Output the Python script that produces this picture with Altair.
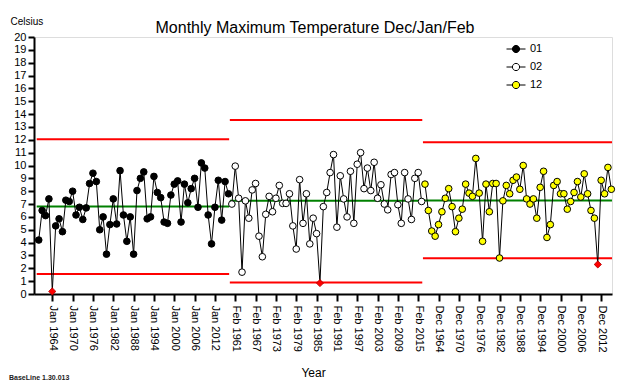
import altair as alt
import pandas as pd

# ---------------- data ----------------
series_names = ["01", "02", "12"]
series_start_year = [1960, 1960, 1960]

jan_values = [4.2, 6.5, 6.1, 7.4, 0.2, 5.3, 5.85, 4.85, 7.3, 7.2,
              8.0, 6.15, 6.75, 5.8, 6.7, 8.6, 9.4, 8.75, 5.0, 6.0,
              3.1, 5.4, 7.4, 5.45, 9.6, 6.15, 4.1, 6.0, 3.1, 8.05,
              9.0, 9.5, 5.85, 6.0, 9.15, 7.9, 7.5, 5.6, 5.5, 7.7,
              8.55, 8.8, 5.6, 8.55, 7.1, 8.2, 9.0, 6.75, 10.2, 9.8,
              6.15, 3.9, 6.75, 8.85, 5.75, 8.75, 7.8]

feb_values = [7.0, 9.95, 7.45, 1.7, 7.25, 5.9, 8.1, 8.6, 4.5, 2.9,
              6.2, 7.6, 6.4, 7.45, 8.45, 7.05, 7.05, 7.8, 5.3, 3.5,
              8.9, 5.5, 7.8, 3.9, 5.9, 4.7, 0.85, 6.8, 7.9, 9.45,
              10.85, 5.2, 9.2, 7.4, 6.0, 9.55, 5.5, 10.1, 11.0, 8.2,
              9.8, 8.05, 10.25, 7.45, 8.5, 7.0, 6.55, 9.3, 9.45, 6.95,
              5.5, 9.45, 7.4, 5.8, 9.0, 9.45, 7.2]

dec_values = [8.55, 6.5, 4.9, 4.5, 5.4, 6.4, 7.45, 8.2, 6.8, 4.85,
              5.9, 6.6, 8.55, 7.85, 7.6, 10.55, 7.85, 4.1, 8.55, 6.4,
              8.6, 8.6, 2.8, 7.25, 8.45, 7.8, 8.85, 9.1, 8.15, 10.0,
              7.4, 7.0, 7.4, 5.9, 8.3, 9.55, 4.4, 5.4, 8.45, 8.75,
              7.8, 7.8, 6.6, 7.2, 7.9, 8.75, 7.55, 9.35, 7.8, 6.5,
              5.9, 2.3, 8.85, 7.8, 9.85, 8.15]

series_values = [jan_values, feb_values, dec_values]
series_fill = ["#000000", "#ffffff", "#ffff00"]

means = [6.8, 7.25, 7.28]
upper_limits = [12.05, 13.55, 11.8]
lower_limits = [1.55, 0.9, 2.78]

tick_labels = ["Jan 1964", "Jan 1970", "Jan 1976", "Jan 1982", "Jan 1988",
               "Jan 1994", "Jan 2000", "Jan 2006", "Jan 2012",
               "Feb 1961", "Feb 1967", "Feb 1973", "Feb 1979", "Feb 1985",
               "Feb 1991", "Feb 1997", "Feb 2003", "Feb 2009", "Feb 2015",
               "Dec 1964", "Dec 1970", "Dec 1976", "Dec 1982", "Dec 1988",
               "Dec 1994", "Dec 2000", "Dec 2006", "Dec 2012"]
month_to_series = {"Jan": 0, "Feb": 1, "Dec": 2}
y_ticks = list(range(0, 21))

# ---------------- tables ----------------
offsets = []
o = 0
for vals in series_values:
    offsets.append(o)
    o += len(vals)

rows = []
for s, vals in enumerate(series_values):
    for i, v in enumerate(vals):
        rows.append({
            "idx": offsets[s] + i,
            "value": v,
            "series": series_names[s],
            "out": bool((v < lower_limits[s]) or (v > upper_limits[s])),
        })
df = pd.DataFrame(rows)

lim_rows = []
for s, vals in enumerate(series_values):
    x1 = offsets[s] - 0.6
    x2 = offsets[s] + len(vals) - 1 + 0.2
    lim_rows.append({"x1": x1, "x2": x2, "y": upper_limits[s], "kind": "limit"})
    lim_rows.append({"x1": x1, "x2": x2, "y": lower_limits[s], "kind": "limit"})
    lim_rows.append({"x1": x1, "x2": x2, "y": means[s], "kind": "mean"})
lim = pd.DataFrame(lim_rows)

tick_values = []
for lab in tick_labels:
    m, y = lab.split()
    s = month_to_series[m]
    tick_values.append(offsets[s] + int(y) - series_start_year[s])

label_expr = ("[" + ",".join("'%s'" % t for t in tick_labels) + "][indexof(["
              + ",".join(str(v) for v in tick_values) + "], datum.value)]")

FONT = "Liberation Sans"
n_total = len(df)
x_scale = alt.Scale(domain=[-1.4, n_total - 1 + 0.2], nice=False, zero=False)
y_scale = alt.Scale(domain=[0, 20], nice=False, zero=True)

x_axis = alt.Axis(values=tick_values, labelExpr=label_expr, labelAngle=90,
                  labelAlign="left", labelBaseline="middle", labelOverlap=False,
                  labelFlush=False, labelBound=False, labelSeparation=0,
                  labelFont=FONT, labelFontSize=11, labelColor="black", labelPadding=4,
                  tickSize=7, tickWidth=2, tickColor="black",
                  domainColor="black", domainWidth=2, grid=False,
                  title="Year", titleFont=FONT, titleFontSize=12, titleFontWeight="normal",
                  titleColor="black", titleX=279, titleY=78, titleAnchor="start",
                  titleAlign="center", titleBaseline="middle")
y_axis = alt.Axis(values=y_ticks, labelFont=FONT, labelFontSize=11,
                  labelOverlap=False, labelFlush=False, labelSeparation=0,
                  labelColor="black", labelPadding=2, tickSize=6, tickWidth=2,
                  tickColor="black", domainColor="black", domainWidth=2, grid=False,
                  title="Celsius", titleAngle=0, titleAlign="left", titleBaseline="top",
                  titleX=-24, titleY=-21, titleFont=FONT, titleFontSize=10,
                  titleFontWeight="normal", titleColor="black")


def X(field):
    return alt.X(field, scale=x_scale, axis=x_axis)


def Y(field):
    return alt.Y(field, scale=y_scale, axis=y_axis)


limits = alt.Chart(lim).transform_filter("datum.kind == 'limit'").mark_rule(
    color="#ff0000", strokeWidth=2
).encode(x=X("x1:Q"), x2="x2:Q", y=Y("y:Q"))

mean_rules = alt.Chart(lim).transform_filter("datum.kind == 'mean'").mark_rule(
    color="#008000", strokeWidth=2
).encode(x=X("x1:Q"), x2="x2:Q", y=Y("y:Q"))

lines = alt.Chart(df).mark_line(color="black", strokeWidth=1).encode(
    x=X("idx:Q"), y=Y("value:Q"), detail="series:N")

legend_path = ("M-1,0L-0.38,0M0.38,0L1,0M-0.38,0A0.38,0.38,0,1,1,0.38,0"
               "A0.38,0.38,0,1,1,-0.38,0Z")

points = alt.Chart(df).transform_filter("!datum.out").mark_point(
    shape="circle", filled=True, size=44, stroke="black", strokeWidth=1, opacity=1
).encode(
    x=X("idx:Q"), y=Y("value:Q"),
    fill=alt.Fill("series:N", scale=alt.Scale(domain=series_names, range=series_fill),
                  legend=alt.Legend(title=None, orient="none", legendX=472, legendY=2,
                                    symbolType=legend_path, symbolSize=361,
                                    symbolStrokeColor="black", symbolStrokeWidth=1,
                                    labelFont=FONT, labelFontSize=11, labelColor="black",
                                    labelOffset=4, rowPadding=2)))

outs = alt.Chart(df).transform_filter("datum.out").mark_point(
    shape="diamond", filled=True, size=50, fill="#ff0000", stroke="#c00000",
    strokeWidth=1, opacity=1
).encode(x=X("idx:Q"), y=Y("value:Q"))

footer = alt.Chart(pd.DataFrame({"t": ["BaseLine 1.30.013"]})).mark_text(
    align="left", baseline="middle", fontSize=7, font=FONT, fontWeight="bold",
    color="#222222"
).encode(x=alt.value(-25), y=alt.value(341), text="t:N")

chart = alt.layer(limits, mean_rules, lines, points, outs, footer).properties(
    width=578, height=257,
    autosize="none",
    padding={"left": 26, "top": 29, "right": 8, "bottom": 90},
    title=alt.TitleParams("Monthly Maximum Temperature Dec/Jan/Feb", font=FONT,
                          fontSize=16, fontWeight="normal", color="black",
                          anchor="middle", dx=-8, dy=20, offset=0),
).configure_view(stroke=None).configure(background="white")

chart.save("out.html", embed_options={"renderer": "svg", "actions": False})
